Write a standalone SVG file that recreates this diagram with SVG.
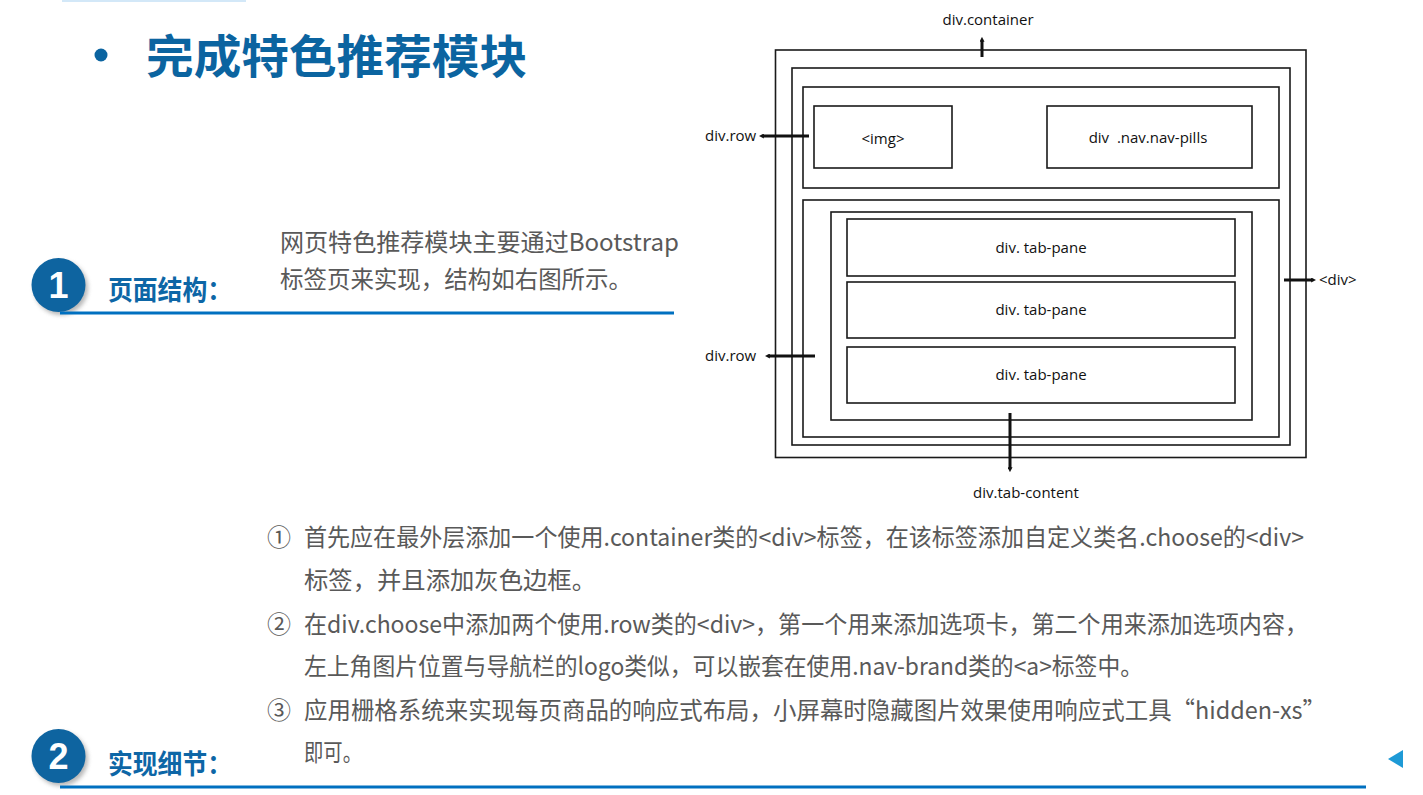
<svg xmlns="http://www.w3.org/2000/svg" width="1423" height="795" viewBox="0 0 1423 795">
<defs>
<style>
.box{fill:none;stroke:#1a1a1a;stroke-width:1.6}
.lbl{font-family:"Open Sans","Noto Sans",sans-serif;font-size:15px;fill:#111}
.body{font-family:"Noto Sans CJK SC","Noto Sans",sans-serif;font-size:24px;fill:#595959}
.head{font-family:"Noto Sans CJK SC",sans-serif;font-weight:bold;font-size:27px;fill:#0d66a6}
.num{font-family:"Liberation Sans",Arial,sans-serif;font-weight:bold;font-size:36px;fill:#fff}
.arr{stroke:#111;stroke-width:3;fill:none}
.rule{stroke:#0070c0;stroke-width:3}
</style>
<marker id="ah" viewBox="0 0 6 6" refX="1" refY="3" markerWidth="5" markerHeight="5" markerUnits="userSpaceOnUse" orient="auto"><path d="M0,0 L6,3 L0,6 z" fill="#111"/></marker>
<filter id="sh" x="-30%" y="-30%" width="160%" height="160%"><feGaussianBlur stdDeviation="2"/></filter>
</defs>
<rect width="1423" height="795" fill="#fff"/>
<rect x="62" y="0" width="184" height="2" fill="#d3e8f8"/>

<g id="title">
<circle cx="101" cy="55" r="6.5" fill="#0b64a0"/>
<text x="146" y="73" font-family="'Noto Sans CJK SC',sans-serif" font-weight="bold" font-size="46" fill="#0b64a0" textLength="381" lengthAdjust="spacingAndGlyphs">完成特色推荐模块</text>
</g>

<g id="section1">
<circle cx="61" cy="288" r="27" fill="#888" opacity="0.6" filter="url(#sh)"/>
<circle cx="58.5" cy="285" r="27" fill="#0e64a0"/>
<text class="num" x="58.5" y="298" text-anchor="middle">1</text>
<text class="head" x="108" y="300" textLength="124" lengthAdjust="spacingAndGlyphs">页面结构：</text>
<line class="rule" x1="60" y1="313" x2="674" y2="313"/>
<text class="body" x="280" y="251" textLength="399" lengthAdjust="spacingAndGlyphs">网页特色推荐模块主要通过Bootstrap</text>
<text class="body" x="280" y="288" textLength="352" lengthAdjust="spacingAndGlyphs">标签页来实现，结构如右图所示。</text>
</g>

<g id="section2">
<circle cx="61" cy="759" r="27" fill="#888" opacity="0.6" filter="url(#sh)"/>
<circle cx="58.5" cy="756" r="27" fill="#0e64a0"/>
<text class="num" x="58.5" y="769" text-anchor="middle">2</text>
<text class="head" x="108" y="774" textLength="124" lengthAdjust="spacingAndGlyphs">实现细节：</text>
<line class="rule" x1="60" y1="787" x2="1366" y2="787"/>
<text class="body" x="267" y="546">①</text>
<text class="body" x="304" y="546" textLength="1000" lengthAdjust="spacingAndGlyphs">首先应在最外层添加一个使用.container类的&lt;div&gt;标签，在该标签添加自定义类名.choose的&lt;div&gt;</text>
<text class="body" x="304" y="589" textLength="292" lengthAdjust="spacingAndGlyphs">标签，并且添加灰色边框。</text>
<text class="body" x="267" y="633">②</text>
<text class="body" x="304" y="633" textLength="1004" lengthAdjust="spacingAndGlyphs">在div.choose中添加两个使用.row类的&lt;div&gt;，第一个用来添加选项卡，第二个用来添加选项内容，</text>
<text class="body" x="304" y="675" textLength="839" lengthAdjust="spacingAndGlyphs">左上角图片位置与导航栏的logo类似，可以嵌套在使用.nav-brand类的&lt;a&gt;标签中。</text>
<text class="body" x="267" y="719">③</text>
<text class="body" x="304" y="719" textLength="1022" lengthAdjust="spacingAndGlyphs">应用栅格系统来实现每页商品的响应式布局，小屏幕时隐藏图片效果使用响应式工具“hidden-xs”</text>
<text class="body" x="304" y="761" textLength="58" lengthAdjust="spacingAndGlyphs">即可。</text>
</g>

<polygon points="1403,750 1403,768 1388,759" fill="#1e9ad6"/>

<g id="container"><rect class="box" x="775.5" y="50" width="530.5" height="407.5"/></g>
<g id="choose"><rect class="box" x="792" y="68" width="498" height="377"/></g>
<g id="row1"><rect class="box" x="803" y="87" width="476" height="101"/></g>
<g id="img"><rect class="box" x="814" y="106" width="138" height="62"/><text class="lbl" x="883" y="144" text-anchor="middle">&lt;img&gt;</text></g>
<g id="navpills"><rect class="box" x="1047" y="106" width="205" height="62"/><text class="lbl" x="1148" y="143" text-anchor="middle" xml:space="preserve">div  .nav.nav-pills</text></g>
<g id="row2"><rect class="box" x="803" y="200" width="476" height="237"/></g>
<g id="tabcontent"><rect class="box" x="831" y="212" width="421" height="208"/></g>
<g id="pane1"><rect class="box" x="847" y="219" width="388" height="57"/><text class="lbl" x="1041" y="253" text-anchor="middle">div. tab-pane</text></g>
<g id="pane2"><rect class="box" x="847" y="282" width="388" height="56"/><text class="lbl" x="1041" y="315" text-anchor="middle">div. tab-pane</text></g>
<g id="pane3"><rect class="box" x="847" y="347" width="388" height="56"/><text class="lbl" x="1041" y="380" text-anchor="middle">div. tab-pane</text></g>

<g id="labels">
<text class="lbl" x="988" y="25" text-anchor="middle">div.container</text>
<text class="lbl" x="705" y="141">div.row</text>
<text class="lbl" x="705" y="361">div.row</text>
<text class="lbl" x="1319" y="285">&lt;div&gt;</text>
<text class="lbl" x="1026" y="498" text-anchor="middle">div.tab-content</text>
</g>

<g id="connectors">
<line class="arr" x1="982" y1="57" x2="982" y2="41" marker-end="url(#ah)"/>
<line class="arr" x1="809" y1="136" x2="763" y2="136" marker-end="url(#ah)"/>
<line class="arr" x1="1284" y1="280" x2="1312" y2="280" marker-end="url(#ah)"/>
<line class="arr" x1="815" y1="356" x2="769" y2="356" marker-end="url(#ah)"/>
<line class="arr" x1="1010" y1="413" x2="1010" y2="468" marker-end="url(#ah)"/>
</g>
</svg>
